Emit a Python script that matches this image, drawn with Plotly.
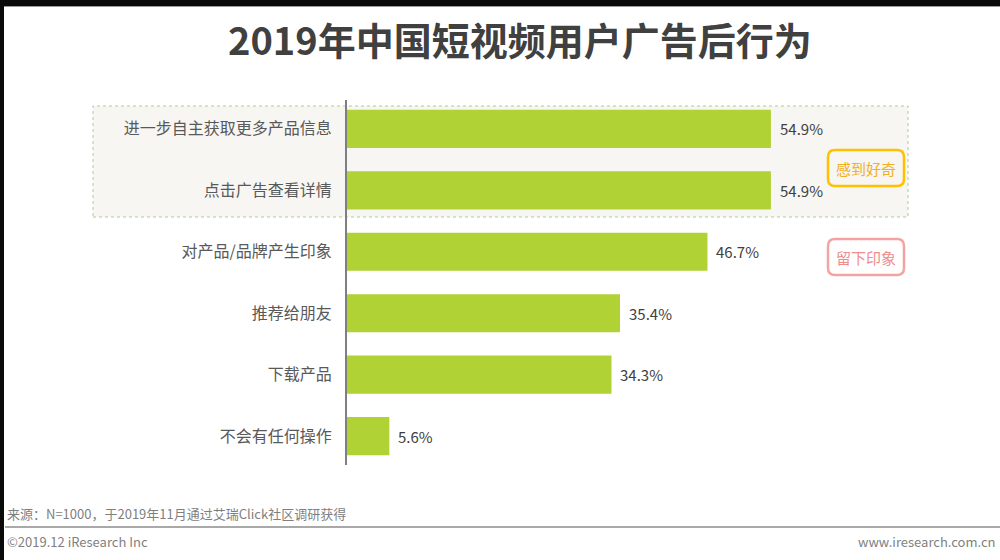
import plotly.graph_objects as go

categories = ["进一步自主获取更多产品信息", "点击广告查看详情", "对产品/品牌产生印象",
              "推荐给朋友", "下载产品", "不会有任何操作"]
values = [54.9, 54.9, 46.7, 35.4, 34.3, 5.6]
value_labels = ["54.9%", "54.9%", "46.7%", "35.4%", "34.3%", "5.6%"]

title_text = "2019年中国短视频用户广告后行为"
source_text = "来源：N=1000，于2019年11月通过艾瑞Click社区调研获得"
copyright_text = "©2019.12 iResearch Inc"
site_text = "www.iresearch.com.cn"
tag1 = "感到好奇"
tag2 = "留下印象"

W, H = 1000, 560
L, R, T, B = 346, 54, 100, 95
PW, PH = W - L - R, H - T - B
FONT = "Noto Sans CJK SC, Microsoft YaHei, sans-serif"


def px(x):
    return (x - L) / PW


def py(y):
    return (H - B - y) / PH


def rounded(x0, y0, x1, y1, r):
    pts = [
        f"M{px(x0 + r)},{py(y0)}",
        f"L{px(x1 - r)},{py(y0)}",
        f"Q{px(x1)},{py(y0)} {px(x1)},{py(y0 + r)}",
        f"L{px(x1)},{py(y1 - r)}",
        f"Q{px(x1)},{py(y1)} {px(x1 - r)},{py(y1)}",
        f"L{px(x0 + r)},{py(y1)}",
        f"Q{px(x0)},{py(y1)} {px(x0)},{py(y1 - r)}",
        f"L{px(x0)},{py(y0 + r)}",
        f"Q{px(x0)},{py(y0)} {px(x0 + r)},{py(y0)}",
        "Z",
    ]
    return " ".join(pts)


fig = go.Figure()
fig.add_trace(go.Bar(
    x=values, y=categories, orientation="h",
    marker=dict(color="#b1d235", line=dict(width=0)),
    width=0.62, hoverinfo="skip",
))

ann = []
for c, v, t in zip(categories, values, value_labels):
    ann.append(dict(x=v, y=c, xref="x", yref="y", text=t, showarrow=False,
                    xanchor="left", xshift=7,
                    font=dict(size=15, color="#404040", family=FONT)))

ann += [
    dict(x=px(520), y=py(38), xref="paper", yref="paper", text="<b>" + title_text + "</b>",
         showarrow=False, xanchor="center", yanchor="middle",
         font=dict(size=38, color="#404040", family=FONT)),
    dict(x=px(866), y=py(168), xref="paper", yref="paper", text=tag1, showarrow=False,
         xanchor="center", yanchor="middle", font=dict(size=15, color="#f2b01e", family=FONT)),
    dict(x=px(866), y=py(257), xref="paper", yref="paper", text=tag2, showarrow=False,
         xanchor="center", yanchor="middle", font=dict(size=15, color="#f08c8c", family=FONT)),
    dict(x=px(5), y=py(513), xref="paper", yref="paper", text=source_text, showarrow=False,
         xanchor="left", yanchor="middle", font=dict(size=13, color="#7f7f7f", family=FONT)),
    dict(x=px(5), y=py(541), xref="paper", yref="paper", text=copyright_text, showarrow=False,
         xanchor="left", yanchor="middle", font=dict(size=13, color="#7f7f7f", family=FONT)),
    dict(x=px(998), y=py(541), xref="paper", yref="paper", text=site_text, showarrow=False,
         xanchor="right", yanchor="middle", font=dict(size=13, color="#7f7f7f", family=FONT)),
]

shapes = [
    dict(type="rect", xref="paper", yref="paper", x0=px(93), x1=px(908), y0=py(217), y1=py(106),
         fillcolor="#f7f6f2", line=dict(color="#a9d18e", width=1, dash="dot"), layer="below"),
    dict(type="line", xref="paper", yref="paper", x0=0, x1=0, y0=0, y1=1,
         line=dict(color="#7f7f7f", width=2), layer="above"),
    dict(type="path", xref="paper", yref="paper", path=rounded(828, 150, 904, 186, 7),
         fillcolor="rgba(0,0,0,0)", line=dict(color="#ffc000", width=2.5)),
    dict(type="path", xref="paper", yref="paper", path=rounded(828, 239, 904, 275, 7),
         fillcolor="rgba(0,0,0,0)", line=dict(color="#f4a3a3", width=2.5)),
    dict(type="line", xref="paper", yref="paper", x0=px(5), x1=px(1000), y0=py(527), y1=py(527),
         line=dict(color="#8c8c8c", width=1.5)),
    dict(type="rect", xref="paper", yref="paper", x0=px(0), x1=px(1000), y0=py(6), y1=py(0),
         fillcolor="#0a0a0a", line=dict(width=0)),
    dict(type="rect", xref="paper", yref="paper", x0=px(0), x1=px(4), y0=py(560), y1=py(0),
         fillcolor="#0a0a0a", line=dict(width=0)),
    dict(type="line", xref="paper", yref="paper", x0=px(4), x1=px(1000), y0=py(6.5), y1=py(6.5),
         line=dict(color="#9a9a9a", width=1)),
]

fig.update_layout(
    width=W, height=H,
    margin=dict(l=L, r=R, t=T, b=B, autoexpand=False),
    paper_bgcolor="white", plot_bgcolor="rgba(0,0,0,0)",
    showlegend=False, bargap=0.38,
    font=dict(family=FONT),
    xaxis=dict(range=[0, PW / 7.74], visible=False, fixedrange=True),
    yaxis=dict(categoryorder="array", categoryarray=categories, autorange=False,
               range=[5.47, -0.47], showgrid=False, zeroline=False, showline=False,
               ticks="outside", ticklen=10, tickcolor="rgba(0,0,0,0)",
               tickfont=dict(size=16, color="#595959", family=FONT)),
    annotations=ann, shapes=shapes,
)

fig.write_html("out.html", config={"displayModeBar": False},
               post_script="document.body.style.margin='0';document.body.style.overflow='hidden';")
